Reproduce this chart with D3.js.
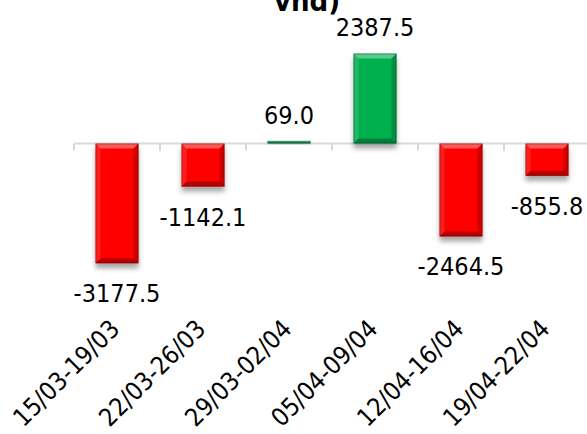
<!DOCTYPE html>
<html>
<head>
<meta charset="utf-8">
<script src="https://cdn.jsdelivr.net/npm/d3@7"></script>
<style>
  html, body { margin: 0; padding: 0; background: #fff; }
  svg { display: block; font-family: "DejaVu Sans Condensed", "DejaVu Sans", sans-serif; font-stretch: condensed; }
</style>
</head>
<body>
<div id="chart"></div>
<script>
// ---------- data ----------
const weeks = ["15/03-19/03", "22/03-26/03", "29/03-02/04", "05/04-09/04", "12/04-16/04", "19/04-22/04"];
const netValues = [-3177.5, -1142.1, 69.0, 2387.5, -2464.5, -855.8];
const titleTail = "vnd)";

const W = 587, H = 434;
const ZERO_Y = 143.5, K = 0.0377;   // px per unit

const svg = d3.select("#chart").append("svg").attr("width", W).attr("height", H);

// drop shadow
const defs = svg.append("defs");
const f = defs.append("filter").attr("id", "shadow")
  .attr("x", "-30%").attr("y", "-30%").attr("width", "160%").attr("height", "160%");
f.append("feDropShadow").attr("dx", 0).attr("dy", 5).attr("stdDeviation", 2.5)
  .attr("flood-color", "#000").attr("flood-opacity", 0.35);

// ---------- scales ----------
const x = d3.scaleBand().domain(weeks).range([74, 590]).paddingInner(0.5).paddingOuter(0.25);
const y = d3.scaleLinear().domain([-4000, 3000]).range([ZERO_Y + 4000 * K, ZERO_Y - 3000 * K]);

const rows = weeks.map((w, i) => ({ week: w, value: netValues[i] }));
const colorOf = v => v < 0 ? "#ff0000" : "#00b050";

// ---------- axis ----------
svg.append("line")
  .attr("x1", x.range()[0]).attr("x2", x.range()[1])
  .attr("y1", y(0)).attr("y2", y(0))
  .attr("stroke", "#d9d9d9").attr("stroke-width", 2);

svg.append("g").selectAll("line")
  .data(weeks).join("line")
    .attr("x1", d => x(d) - x.step() * 0.25).attr("x2", d => x(d) - x.step() * 0.25)
    .attr("y1", y(0)).attr("y2", y(0) + 7)
    .attr("stroke", "#d9d9d9").attr("stroke-width", 2);

// ---------- bars with bevel ----------
const bars = svg.append("g").selectAll("g.bar")
  .data(rows).join("g").attr("class", "bar");

bars.each(function(d) {
  const g = d3.select(this);
  const x0 = x(d.week), bw = x.bandwidth();
  const top = Math.min(y(d.value), y(0)), bot = Math.max(y(d.value), y(0));
  const h = bot - top;
  const b = Math.min(5, h / 2);
  const x1 = x0 + bw;

  g.append("rect")
    .attr("x", x0).attr("y", top).attr("width", bw).attr("height", h)
    .attr("fill", colorOf(d.value)).attr("filter", "url(#shadow)");

  const poly = (pts, fill, op) => g.append("polygon")
    .attr("points", pts.map(p => p.join(",")).join(" "))
    .attr("fill", fill).attr("fill-opacity", op);

  // top highlight
  poly([[x0, top], [x1, top], [x1 - b, top + b], [x0 + b, top + b]], "#fff", 0.35);
  // left light
  poly([[x0, top], [x0 + b, top + b], [x0 + b, bot - b], [x0, bot]], "#fff", 0.12);
  // right shade
  poly([[x1, top], [x1, bot], [x1 - b, bot - b], [x1 - b, top + b]], "#000", 0.18);
  // bottom shade
  poly([[x0, bot], [x1, bot], [x1 - b, bot - b], [x0 + b, bot - b]], "#000", 0.28);

  g.append("rect")
    .attr("x", x0 + 0.5).attr("y", top + 0.5).attr("width", bw - 1).attr("height", Math.max(0, h - 1))
    .attr("fill", "none").attr("stroke", "#000").attr("stroke-opacity", 0.3).attr("stroke-width", 1);
});

// ---------- data labels ----------
svg.append("g").selectAll("text")
  .data(rows).join("text")
    .attr("x", d => x(d.week) + x.bandwidth() / 2)
    .attr("y", d => d.value >= 0 ? y(d.value) - 17 : y(d.value) + 39)
    .attr("text-anchor", "middle")
    .style("font-size", "25px")
    .style("fill", "#000")
    .text(d => d.value.toFixed(1));

// ---------- category labels ----------
svg.append("g").selectAll("text")
  .data(weeks).join("text")
    .attr("transform", d => `translate(${x(d) + x.bandwidth() / 2 + 4},${y(0) + 187}) rotate(-45)`)
    .attr("text-anchor", "end")
    .style("font-size", "25px")
    .style("fill", "#000")
    .text(d => d);

// ---------- title (only the tail is visible) ----------
svg.append("text")
  .attr("x", 307).attr("y", 11)
  .attr("text-anchor", "middle")
  .style("font-size", "29px")
  .style("font-weight", "bold")
  .style("fill", "#000")
  .text(titleTail);
</script>
</body>
</html>
